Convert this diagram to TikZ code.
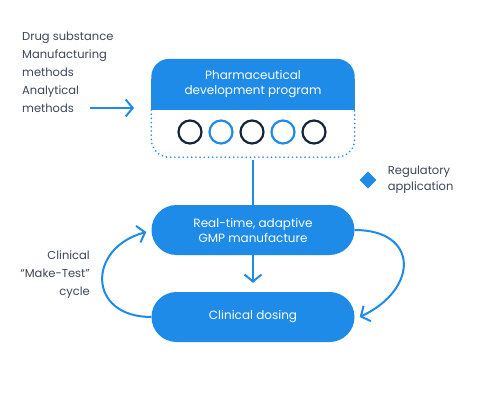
\documentclass[tikz,border=0pt]{standalone}
\usepackage{fontspec}
\setmainfont{Poppins}
\usetikzlibrary{shapes.geometric, arrows.meta, positioning, calc}

\definecolor{appblue}{HTML}{1E8BE8}
\definecolor{navy}{HTML}{17233A}
\definecolor{inkgray}{HTML}{3B4656}

\begin{document}
\begin{tikzpicture}[x=1pt, y=1pt, font=\fontsize{12}{15}\selectfont,
        pill/.style={rectangle, rounded corners=25pt, fill=appblue, text=white,
            minimum width=203pt, minimum height=50pt, align=center},
        ring/.style={circle, draw, line width=2.2pt, minimum size=23pt, inner sep=0pt},
        flow/.style={draw=appblue, line width=2pt,
            -{Straight Barb[length=7pt, width=17pt, line width=2pt]}},
        side/.style={text=inkgray, inner sep=0pt}]
        \useasboundingbox (0,0) rectangle (481,410);

        % development program box
        \node[minimum width=203pt, minimum height=98pt, inner sep=0pt] (pharma) at (253,302) {};
        \fill[appblue, rounded corners=18pt] (pharma.north west) rectangle ([yshift=-2pt]pharma.east);
        \fill[appblue] ([yshift=-20pt]pharma.north west) rectangle ([yshift=-2pt]pharma.east);
        \draw[appblue, line width=1.8pt, dash pattern=on 0pt off 4.2pt, line cap=round, rounded corners=18pt]
        ([yshift=-2pt]pharma.west) -- (pharma.south west) -- (pharma.south east) -- ([yshift=-2pt]pharma.east);
        \node[text=white, align=center] (pharmatitle) at (253,326) {Pharmaceutical\\development program};
        \foreach \i/\x/\c in {1/190/navy, 2/221/appblue, 3/252/navy, 4/283/appblue, 5/314/navy}
        \node[ring, draw=\c] (phase\i) at (\x,278) {};

        \node[pill] (make) at (253,180) {Real-time, adaptive\\GMP manufacture};
        \node[pill] (dosing) at (253,93) {Clinical dosing};

        % inputs
        \node[side, anchor=west, align=left, font=\fontsize{11.5}{18}\selectfont] (inputs) at (22,338)
        {Drug substance\\Manufacturing\\methods\\Analytical\\methods};
        \coordinate (infrom) at (90,302);
        \coordinate (into) at (134,302);

        % regulatory
        \node[diamond, fill=appblue, minimum width=17pt, minimum height=17pt, inner sep=0pt] (regmark) at (368,230) {};
        \node[side, align=left, right=11pt of regmark, font=\fontsize{11.5}{16}\selectfont] (regtext)
        {Regulatory\\application};

        \node[side, anchor=east, align=right, font=\fontsize{11.5}{18}\selectfont] (cycle) at (90,135)
        {Clinical\\“Make-Test”\\cycle};

        \draw[flow] (infrom) -- (into);
        \draw[appblue, line width=2pt, shorten <=3pt] (pharma.south) -- (make.north);
        \draw[flow, shorten >=9pt] (make) -- (dosing);
        \draw[flow] (dosing.west) .. controls (87,93) and (87,162) .. ([xshift=-5pt,yshift=-2pt]make.west);
        \draw[flow] (make.east) .. controls (419,180) and (419,121) .. ([xshift=5pt]dosing.east);
\end{tikzpicture}
\end{document}
